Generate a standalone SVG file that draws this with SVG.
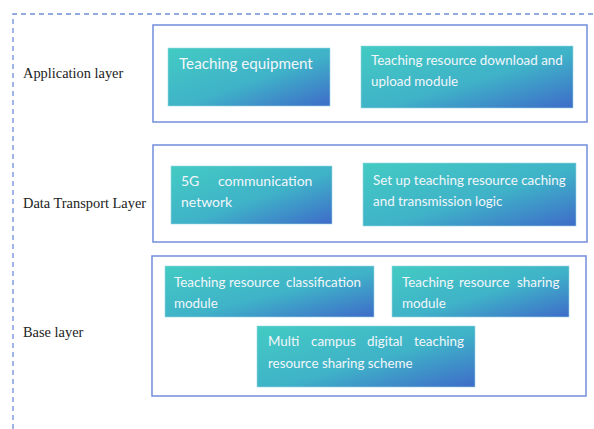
<svg xmlns="http://www.w3.org/2000/svg" width="594" height="429" viewBox="0 0 594 429">
<defs>
<linearGradient id="g" x1="0" y1="0" x2="1" y2="1">
<stop offset="0" stop-color="#43cbc3"/>
<stop offset="0.55" stop-color="#3fb2c8"/>
<stop offset="1" stop-color="#3e6bc9"/>
</linearGradient>
<style>
.layer{fill:#fff;stroke:#7b95dc;stroke-width:1.6}
.mod{fill:url(#g);stroke:#9ad6e0;stroke-width:0.6}
.mt{font-family:Lato,"Open Sans",sans-serif;font-size:13.4px;fill:#f2f6fa}
.lab{font-family:"Liberation Serif",serif;font-size:14.4px;fill:#222}
.outline{fill:none;stroke:#6f8fd6;stroke-width:1.3;stroke-dasharray:5 4}
</style>
</defs>
<rect width="594" height="429" fill="#fff"/>
<path class="outline" d="M13 429 V14 H594"/>
<g id="application">
<text class="lab" x="23" y="78">Application layer</text>
<rect class="layer" x="153" y="25" width="434" height="97"/>
<g id="teaching-equipment">
<rect class="mod" x="168" y="48" width="162" height="58"/>
<text class="mt" x="179" y="69" style="font-size:15.2px">Teaching equipment</text>
</g>
<g id="download-module">
<rect class="mod" x="361" y="46" width="212" height="62"/>
<text class="mt" x="371" y="65">Teaching resource download and</text>
<text class="mt" x="371" y="86">upload module</text>
</g>
</g>
<g id="transport">
<text class="lab" x="23" y="208">Data Transport Layer</text>
<rect class="layer" x="153" y="145" width="434" height="97"/>
<g id="network-5g">
<rect class="mod" x="171" y="166" width="161" height="58"/>
<text class="mt" y="186" style="font-size:14px"><tspan x="181">5G</tspan><tspan x="218">communication</tspan></text>
<text class="mt" x="181" y="207" style="font-size:14px">network</text>
</g>
<g id="caching-logic">
<rect class="mod" x="363" y="163" width="213" height="63"/>
<text class="mt" x="373" y="185">Set up teaching resource caching</text>
<text class="mt" x="373" y="206">and transmission logic</text>
</g>
</g>
<g id="base">
<text class="lab" x="23" y="337">Base layer</text>
<rect class="layer" x="152" y="256" width="434" height="140"/>
<g id="classification-module">
<rect class="mod" x="165" y="266" width="209" height="51"/>
<text class="mt" y="287"><tspan x="174">Teaching</tspan><tspan x="229">resource</tspan><tspan x="286">classification</tspan></text>
<text class="mt" x="174" y="308">module</text>
</g>
<g id="sharing-module">
<rect class="mod" x="392" y="266" width="177" height="51"/>
<text class="mt" y="287"><tspan x="402">Teaching</tspan><tspan x="459">resource</tspan><tspan x="517">sharing</tspan></text>
<text class="mt" x="402" y="308">module</text>
</g>
<g id="sharing-scheme">
<rect class="mod" x="257" y="326" width="218" height="61"/>
<text class="mt" y="346"><tspan x="268">Multi</tspan><tspan x="311">campus</tspan><tspan x="367">digital</tspan><tspan x="414">teaching</tspan></text>
<text class="mt" x="268" y="368">resource sharing scheme</text>
</g>
</g>
</svg>
